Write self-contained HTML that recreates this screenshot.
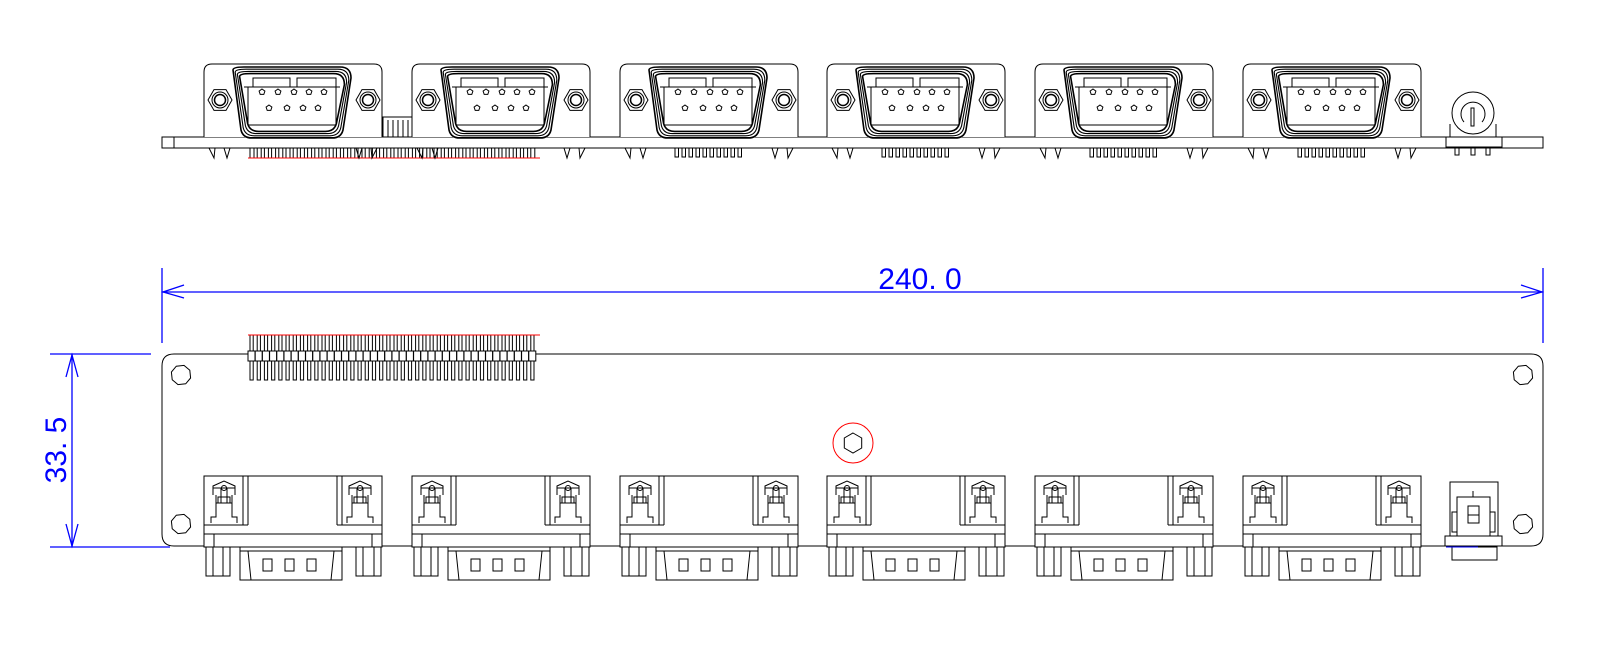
<!DOCTYPE html>
<html><head><meta charset="utf-8"><style>
html,body{margin:0;padding:0;background:#fff;width:1600px;height:667px;overflow:hidden}
svg{display:block}
</style></head><body>
<svg id="s" width="1600" height="667" viewBox="0 0 1600 667" xmlns="http://www.w3.org/2000/svg" fill="none" stroke="#000" stroke-width="1">
<g id="g"></g>
<g stroke="#0000ff" stroke-width="1.3">
<line x1="162" y1="268" x2="162" y2="343"/>
<line x1="1543" y1="268" x2="1543" y2="343"/>
<line x1="162" y1="292" x2="1543" y2="292"/>
<path d="M184 285 L163 292 L184 298 M1521 285 L1542 292 L1521 298"/>
<line x1="50" y1="354" x2="151" y2="354"/>
<line x1="50" y1="547" x2="170" y2="547"/>
<line x1="72" y1="354" x2="72" y2="547"/>
<path d="M66 377 L72 355 L78 377 M66 524 L72 546 L78 524"/>
</g>
<text x="920" y="289" fill="#0000ff" stroke="none" font-family="Liberation Sans, sans-serif" font-size="30" text-anchor="middle">240. 0</text>
<text transform="translate(66,450) rotate(-90)" fill="#0000ff" stroke="none" font-family="Liberation Sans, sans-serif" font-size="30" text-anchor="middle">33. 5</text>
</svg>
<script>
var g=document.getElementById('g'),h='';
function L(a,b,c,d,e){h+='<line x1="'+a+'" y1="'+b+'" x2="'+c+'" y2="'+d+'"'+(e?' stroke="'+e+'"':'')+'/>';}
function R(x,y,w,hh,e){h+='<rect x="'+x+'" y="'+y+'" width="'+w+'" height="'+hh+'"'+(e||'')+'/>';}
function C(x,y,r,e){h+='<circle cx="'+x+'" cy="'+y+'" r="'+r+'"'+(e||'')+'/>';}
function P(d,e){h+='<path d="'+d+'"'+(e||'')+'/>';}
function poly(x,y,r,n,off){var d='';for(var i=0;i<n;i++){var a=off+2*Math.PI/n*i;d+=(i?'L':'M')+(x+r*Math.cos(a)).toFixed(1)+' '+(y+r*Math.sin(a)).toFixed(1);}P(d+'Z');}
function hex(x,y,r){poly(x,y,r,6,0);}
function penta(x,y,r){poly(x,y,r,5,-Math.PI/2);}
var xs=[204,412,620,827,1035,1243];
// ===== TOP VIEW =====
R(162,137,1381,11);L(174,137,174,148);
for(var i=0;i<40;i++){var px=250+i*7.2;R(px,148,4,10);}
L(248,158,540,158,'#ff0000');
R(383,117,30,20);for(var i=0;i<5;i++)L(388+i*5,120,388+i*5,137);
xs.forEach(function(x,k){
 P('M'+x+' 137 V72 Q'+x+' 64 '+(x+8)+' 64 H'+(x+170)+' Q'+(x+178)+' 64 '+(x+178)+' 72 V137',' fill="#fff"');
 for(var j=0;j<4;j++){var o=j*2.2;P('M'+(x+29+o)+' '+(70+o)+' Q'+(x+29+o)+' '+(67+o)+' '+(x+40+o)+' '+(67+o)+' H'+(x+136-o)+' Q'+(x+147-o)+' '+(67+o)+' '+(x+147-o)+' '+(78+o)+' L'+(x+139-o)+' '+(130-o)+' Q'+(x+137-o)+' '+(138-o)+' '+(x+128-o)+' '+(138-o)+' H'+(x+48+o)+' Q'+(x+39+o)+' '+(138-o)+' '+(x+37+o)+' '+(130-o)+' Z',(j==0||j==3)?' stroke-width="1.6"':' stroke-width="1.1"');}
 R(x+49,78,37,9);R(x+93,78,39,9);L(x+40,87,x+136,87);L(x+44,125,x+132,125);L(x+44,125,x+44,87);L(x+132,125,x+132,87);
 [58,74,90,105,120].forEach(function(d){penta(x+d,92,3);});
 [65,83,99,114].forEach(function(d){penta(x+d,108,3);});
 hex(x+16,100,12);C(x+16,100,8);C(x+16,100,5.5,' stroke-width="1.5"');
 hex(x+164,100,12);C(x+164,100,8);C(x+164,100,5.5,' stroke-width="1.5"');
 P('M'+(x+5)+' 148 L'+(x+10)+' 158 L'+(x+11)+' 148 M'+(x+20)+' 148 L'+(x+23)+' 158 L'+(x+26)+' 148');
 P('M'+(x+152)+' 148 L'+(x+155)+' 158 L'+(x+158)+' 148 M'+(x+167)+' 148 L'+(x+168)+' 158 L'+(x+173)+' 148');
 if(k>1){for(var i=0;i<10;i++)R(x+55+i*7,148,3.5,9);}
});
R(1446,137,56,10);P('M1450 137 V124 M1496 137 V124');C(1473,113,21);P('M1464 122 A12 12 0 1 1 1482 122');R(1471,108,3,18);
[1457,1473,1488].forEach(function(p){R(p-2,147,4,8);});
// ===== BOTTOM VIEW =====
P('M174 354 H1531 Q1543 354 1543 366 V534 Q1543 546 1531 546 H174 Q162 546 162 534 V366 Q162 354 174 354 Z');
[[181,375],[181,524],[1523,375],[1523,524]].forEach(function(c){poly(c[0],c[1],10,8,0.3);});
for(var i=0;i<40;i++){var px=250+i*7.2;R(px,335,3.2,45);R(px-2,351,7,10,' fill="#fff"');}
L(248,335,540,335,'#ff0000');
C(853,443,20,' stroke="#ff0000"');poly(853,443,10,6,-Math.PI/2);
xs.forEach(function(x){
 R(x,476,178,71,' fill="#fff"');
 L(x+39,476,x+39,525);L(x+44,476,x+44,525);L(x,525,x+44,525);
 L(x+133,476,x+133,525);L(x+138,476,x+138,525);L(x+133,525,x+178,525);
 L(x,534,x+178,534);L(x+10,534,x+10,547);L(x+168,534,x+168,547);
 [[x+20],[x+156]].forEach(function(s){var c=s[0];
  P('M'+(c-13)+' 523 V517 H'+(c-8)+' V503 H'+(c+8)+' V517 H'+(c+13)+' V523');
  R(c-6,497,12,6);P('M'+(c-11)+' 495 V486 L'+c+' 481 L'+(c+11)+' 486 V495');L(c-11,488,c+11,488);
  C(c,488,2.5);L(c-8,495,c-8,508);L(c+8,495,c+8,508);L(c-3,488,c-3,503);L(c+3,488,c+3,503);});
 R(x+2,547,24,29);L(x+9,547,x+9,576);L(x+19,547,x+19,576);
 R(x+152,547,25,29);L(x+159,547,x+159,576);L(x+170,547,x+170,576);
 R(x+36,547,102,33);L(x+44,551,x+47,580);L(x+130,551,x+127,580);L(x+36,551,x+138,551);
 [63,85,107].forEach(function(d){R(x+d-4,559,9,12);});
});
R(1450,482,48,54,' fill="#fff"');R(1457,497,33,39);L(1473,491,1473,497);L(1470,497,1476,497);
R(1468,506,11,17);L(1468,515,1479,515);R(1452,512,5,20);R(1490,512,5,20);
R(1445,536,57,10);R(1452,547,45,13);
L(1446,547,1478,547,'#0000ff');
g.innerHTML=h;
</script>
</body></html>
